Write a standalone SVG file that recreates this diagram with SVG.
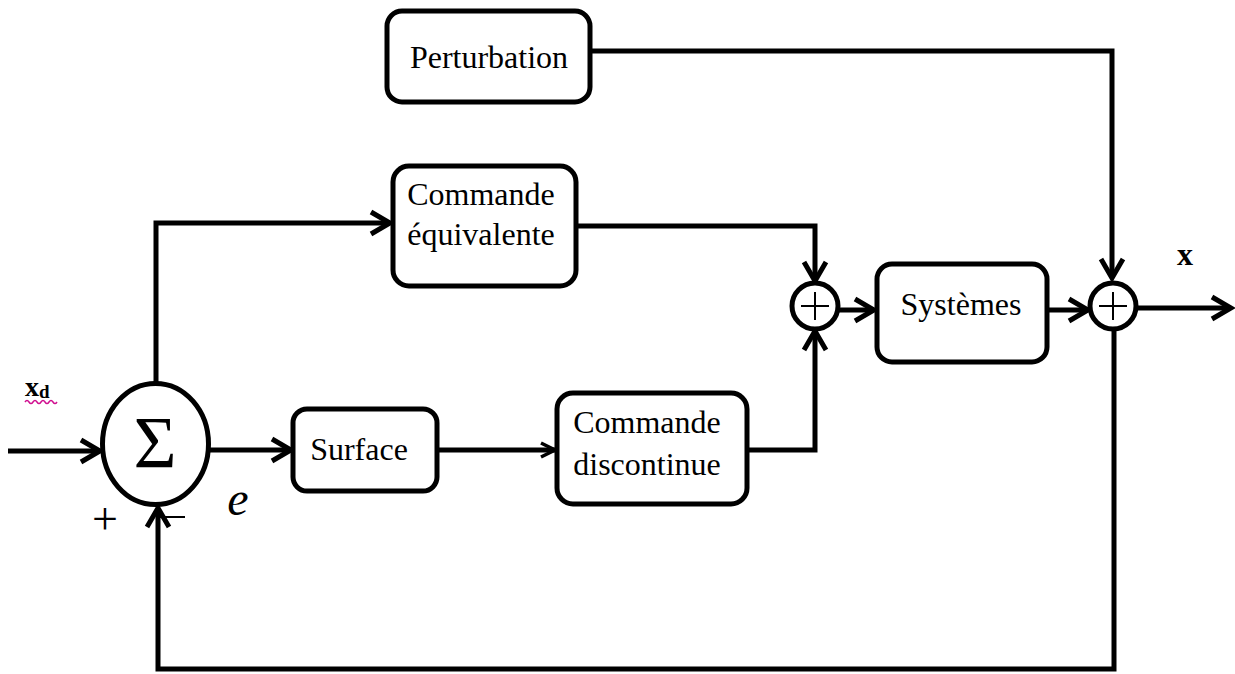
<svg xmlns="http://www.w3.org/2000/svg" width="1235" height="674" viewBox="0 0 1235 674">
<defs>
<style>
.box{fill:#fff;stroke:#000;stroke-width:5}
.lbl{font-family:"Liberation Serif","Times New Roman",serif;font-size:32px;fill:#000;text-anchor:middle}
.ln{fill:none;stroke:#000;stroke-width:5;stroke-linejoin:miter}
.thin{fill:none;stroke:#000;stroke-width:2}
</style>
<marker id="arr" viewBox="0 0 26 28" refX="22" refY="14" markerWidth="26" markerHeight="28" markerUnits="userSpaceOnUse" orient="auto">
<path d="M3,3 L22,14 L3,25" fill="none" stroke="#000" stroke-width="5" stroke-linejoin="miter"/>
</marker>
<marker id="arrs" viewBox="0 0 20 20" refX="17" refY="10" markerWidth="20" markerHeight="20" markerUnits="userSpaceOnUse" orient="auto">
<path d="M3,3 L17,10 L3,17" fill="none" stroke="#000" stroke-width="3.5"/>
</marker>
</defs>
<rect width="1235" height="674" fill="#fff"/>

<g id="connectors">
<path class="ln" d="M590 51 H1112 V278" marker-end="url(#arr)"/>
<path class="ln" d="M576 226 H815 V281" marker-end="url(#arr)"/>
<path class="ln" d="M838 310 H874" marker-end="url(#arr)"/>
<path class="ln" d="M1047 310 H1088" marker-end="url(#arr)"/>
<path class="ln" d="M1137 308 H1231" marker-end="url(#arr)"/>
<path class="ln" d="M1114 330 V669 H158 V508" marker-end="url(#arr)"/>
<path class="ln" d="M156 382 V223 H390" marker-end="url(#arr)"/>
<path class="ln" d="M8 451 H100" marker-end="url(#arr)"/>
<path class="ln" d="M208 450 H291" marker-end="url(#arr)"/>
<path class="ln" d="M437 450 H555" stroke-width="4" marker-end="url(#arrs)"/>
<path class="ln" d="M747 450 H815 V331" marker-end="url(#arr)"/>
</g>

<g id="perturbation">
<rect class="box" x="387" y="11" width="203" height="91" rx="15"/>
<text class="lbl" x="489" y="68">Perturbation</text>
</g>

<g id="commande-equivalente">
<rect class="box" x="393" y="166" width="183" height="120" rx="16"/>
<text class="lbl" x="481" y="205">Commande</text>
<text class="lbl" x="481" y="245">équivalente</text>
</g>

<g id="surface">
<rect class="box" x="293" y="409" width="144" height="82" rx="14"/>
<text class="lbl" x="359" y="460">Surface</text>
</g>

<g id="commande-discontinue">
<rect class="box" x="557" y="393" width="190" height="111" rx="16"/>
<text class="lbl" x="647" y="433">Commande</text>
<text class="lbl" x="647" y="475">discontinue</text>
</g>

<g id="systemes">
<rect class="box" x="877" y="264" width="170" height="98" rx="15"/>
<text class="lbl" x="961" y="315">Systèmes</text>
</g>

<g id="sum-main">
<ellipse class="box" cx="155.5" cy="444" rx="53" ry="60.5"/>
<text x="155" y="468" font-family="Liberation Serif, serif" font-size="74" text-anchor="middle">Σ</text>
</g>

<g id="sum-control">
<circle class="box" cx="815" cy="306" r="23"/>
<path class="thin" d="M801 306 H829 M815 292 V320"/>
</g>

<g id="sum-output">
<circle class="box" cx="1113" cy="306" r="23"/>
<path class="thin" d="M1099 306 H1127 M1113 292 V320"/>
</g>

<g id="labels">
<text x="25" y="396" font-family="Liberation Serif, serif" font-size="28" font-weight="bold">x<tspan font-size="19" dy="2">d</tspan></text>
<path d="M25 402 q2 -3 4 0 t4 0 t4 0 t4 0 t4 0 t4 0 t4 0 t4 0" fill="none" stroke="#d01090" stroke-width="1.5"/>
<text x="1185" y="265" font-family="Liberation Serif, serif" font-size="32" font-weight="bold" text-anchor="middle">x</text>
<text x="105" y="534" font-family="Liberation Serif, serif" font-size="46" text-anchor="middle">+</text>
<path class="thin" d="M160 517 H185"/>
<text x="238" y="515" font-family="Liberation Serif, serif" font-size="48" font-style="italic" text-anchor="middle">e</text>
</g>
</svg>
